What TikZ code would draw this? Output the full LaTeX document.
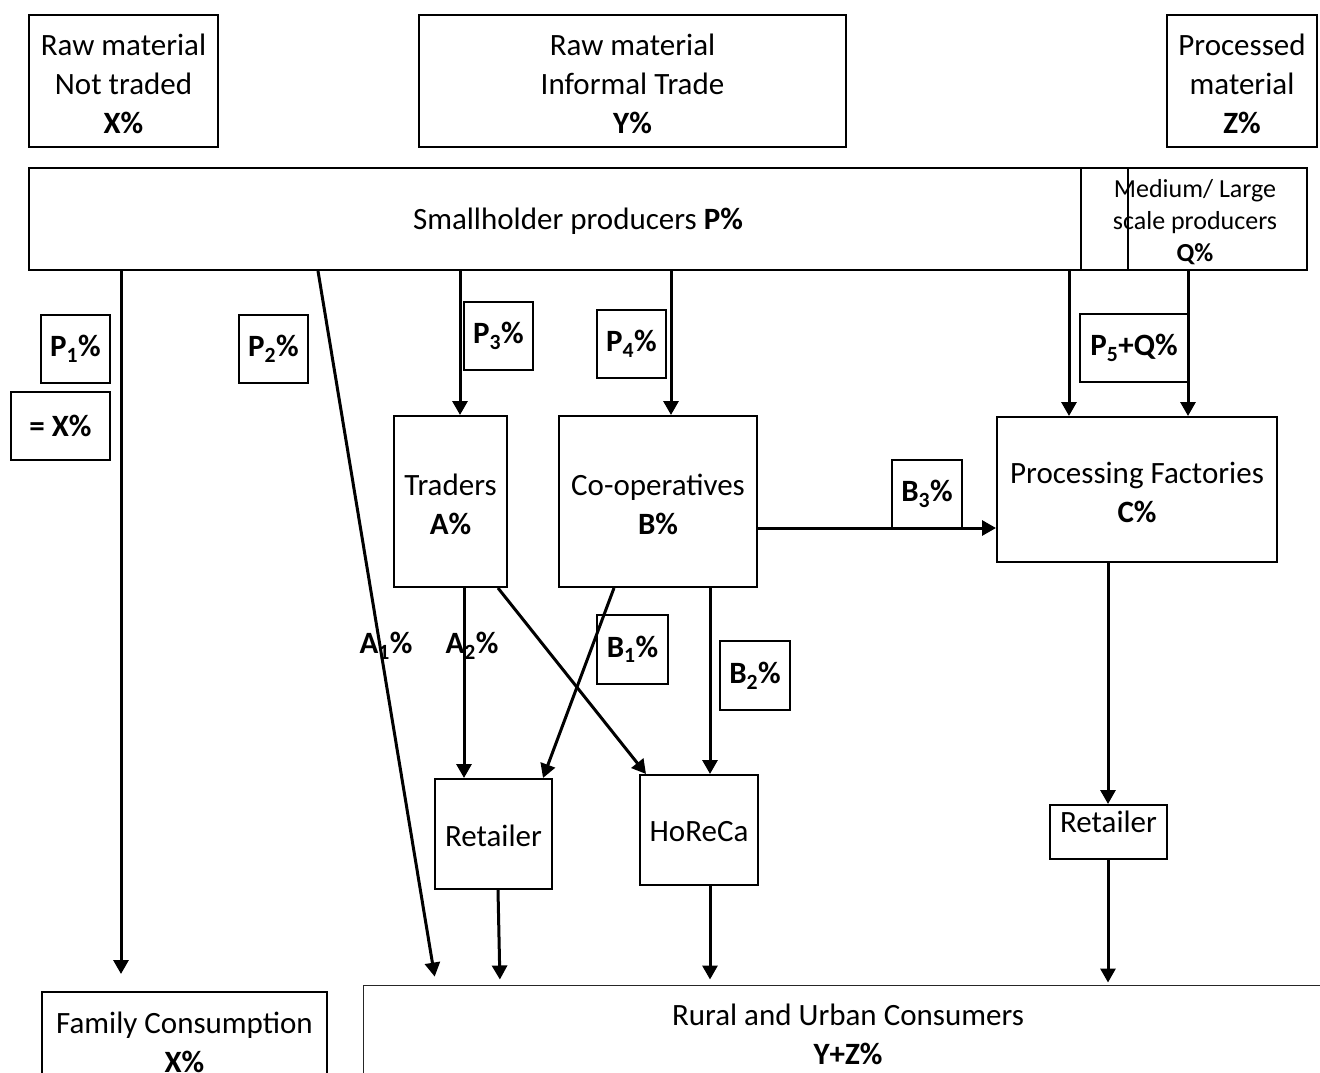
\documentclass[tikz,border=0pt]{standalone}
\usepackage{fontspec}
\setmainfont{Carlito}
\usetikzlibrary{arrows.meta}
\begin{document}
\begin{tikzpicture}[x=1pt,y=-1pt,
  box/.style={draw, line width=2pt, inner sep=0pt, align=center},
  txt/.style={inner sep=0pt, align=center, font=\fontsize{31}{39}\selectfont},
  small/.style={inner sep=0pt, align=center, font=\fontsize{26}{32}\selectfont},
  arr/.style={line width=3pt, -{Triangle[length=14pt,width=15pt]}},
  lbl/.style={box, font=\fontsize{31}{39}\selectfont\bfseries}]
\clip (0,0) rectangle (1320,1072);
\fill[white] (0,0) rectangle (1320,1072);

% top category boxes
\node[box, minimum width=189, minimum height=132] (nt) at (123.5,81) {};
\node[txt] (nttxt) at (123.5,84) {Raw material\\Not traded\\\textbf{X\%}};
\node[box, minimum width=427, minimum height=132] (it) at (632.5,81) {};
\node[txt] (ittxt) at (632.5,84) {Raw material\\Informal Trade\\\textbf{Y\%}};
\node[box, minimum width=150, minimum height=132] (pm) at (1242,81) {};
\node[txt] (pmtxt) at (1242,84) {Processed\\material\\\textbf{Z\%}};

% producers
\node[box, minimum width=1278, minimum height=102] (sh) at (668,219) {};
\node[txt] (shtxt) at (578,221) {Smallholder producers \textbf{P\%}};
\node[box, minimum width=226, minimum height=102] (med) at (1194,219) {};
\draw[line width=2pt] (med.north -| 1128,0) -- (med.south -| 1128,0);
\node[small] (medtxt) at (1195,222) {Medium/ Large\\scale producers\\\textbf{Q\%}};

% intermediaries
\node[box, minimum width=113, minimum height=171] (trd) at (450.5,501.5) {};
\node[txt] (trdtxt) at (450.5,504) {Traders\\\textbf{A\%}};
\node[box, minimum width=198, minimum height=171] (coop) at (658,501.5) {};
\node[txt] (cooptxt) at (658,504) {Co-operatives\\\textbf{B\%}};
\node[box, minimum width=280, minimum height=145] (pf) at (1137,489.5) {};
\node[txt] (pftxt) at (1137,492) {Processing Factories\\\textbf{C\%}};

% outlets
\node[box, minimum width=117, minimum height=110] (ret1) at (493.5,834) {};
\node[txt] (ret1txt) at (493.5,836) {Retailer};
\node[box, minimum width=118, minimum height=110] (hor) at (699,830) {};
\node[txt] (hortxt) at (699,832) {HoReCa};
\node[box, minimum width=117, minimum height=54] (ret2) at (1108.5,832) {};
\node[txt] (ret2txt) at (1108.5,822) {Retailer};

% final destinations
\node[box, minimum width=285, minimum height=120] (fam) at (184.5,1052) {};
\node[txt] (famtxt) at (184.5,1042) {Family Consumption\\\textbf{X\%}};
\node[draw, line width=1pt, draw=black!85, minimum width=1000, minimum height=140, inner sep=0pt] (cons) at (863,1055) {};
\node[txt] (constxt) at (848,1034) {Rural and Urban Consumers\\\textbf{Y+Z\%}};

% flow labels
\node[lbl, minimum width=69, minimum height=68] (p1) at (75.5,349) {P\textsubscript{1}\%};
\node[lbl, minimum width=99, minimum height=68] (px) at (60.5,426) {= X\%};
\node[lbl, minimum width=69, minimum height=68] (p2) at (273.5,349) {P\textsubscript{2}\%};
\node[lbl, minimum width=69, minimum height=68] (p3) at (498.5,336) {P\textsubscript{3}\%};
\node[lbl, minimum width=69, minimum height=68] (p4) at (631.5,344) {P\textsubscript{4}\%};
\node[lbl, minimum width=108, minimum height=68] (p5) at (1134,348) {P\textsubscript{5}+Q\%};
\node[lbl, minimum width=70, minimum height=68] (b3) at (927,494) {B\textsubscript{3}\%};
\node[lbl, minimum width=71, minimum height=69] (b1) at (632.5,649.5) {B\textsubscript{1}\%};
\node[lbl, minimum width=70, minimum height=69] (b2) at (755,675.5) {B\textsubscript{2}\%};
\node[txt, font=\fontsize{31}{39}\selectfont\bfseries] (a1) at (386,646) {A\textsubscript{1}\%};
\node[txt, font=\fontsize{31}{39}\selectfont\bfseries] (a2) at (472,646) {A\textsubscript{2}\%};

% flows
\draw[arr, shorten >=17pt] (sh.south -| 121,0) -- (fam.north -| 121,0);
\draw[arr, shorten >=8pt] (sh.south -| 318,0) -- (cons.north -| 436,0);
\draw[arr] (sh.south -| 460,0) -- (trd.north -| 460,0);
\draw[arr] (sh.south -| 671,0) -- (coop.north -| 671,0);
\draw[arr] (sh.south -| 1069,0) -- (pf.north -| 1069,0);
\draw[arr] (med.south -| 1188,0) -- (pf.north -| 1188,0);
\draw[arr] (coop.east |- 0,528) -- (pf.west |- 0,528);
\draw[arr] (trd.south -| 464,0) -- (ret1.north -| 464,0);
\draw[arr] (trd.south -| 498,0) -- (hor.north -| 646,0);
\draw[arr] (coop.south -| 614,0) -- (ret1.north -| 543,0);
\draw[arr] (coop.south -| 710,0) -- (hor.north -| 710,0);
\draw[arr] (pf.south -| 1108,0) -- (ret2.north -| 1108,0);
\draw[arr, shorten >=5pt] (ret1.south -| 498,0) -- (cons.north -| 500,0);
\draw[arr, shorten >=5pt] (hor.south -| 710,0) -- (cons.north -| 710,0);
\draw[arr, shorten >=2pt] (ret2.south -| 1108,0) -- (cons.north -| 1108,0);
\end{tikzpicture}
\end{document}
